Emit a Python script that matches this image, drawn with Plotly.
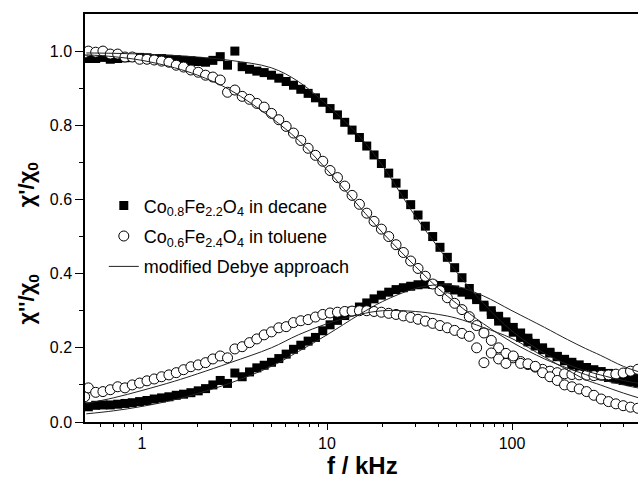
import plotly.graph_objects as go

# measurement frequencies (kHz)
freq_khz = [0.513, 0.562, 0.615, 0.674, 0.739, 0.809, 0.886, 0.971, 1.064, 1.165,
            1.276, 1.398, 1.532, 1.678, 1.838, 2.014, 2.206, 2.416, 2.648, 2.900,
            3.177, 3.480, 3.813, 4.176, 4.575, 5.012, 5.490, 6.015, 6.589, 7.218,
            7.907, 8.662, 9.489, 10.39, 11.39, 12.47, 13.66, 14.97, 16.40, 17.96,
            19.68, 21.56, 23.62, 25.87, 28.34, 31.05, 34.01, 37.26, 40.81, 44.71,
            48.98, 53.66, 58.78, 64.39, 70.53, 77.27, 84.65, 92.73, 101.6, 111.3,
            121.9, 133.6, 146.3, 160.3, 175.6, 192.3, 210.7, 230.8, 252.9, 277.0,
            303.4, 332.4, 364.1, 398.9, 436.9, 478.6]
tol_freq_khz = [0.49] + freq_khz

dec_chi1 = [0.980, 0.980, 0.983, 0.978, 0.980, 0.982, 0.983, 0.983, 0.982, 0.980,
            0.980, 0.978, 0.977, 0.975, 0.974, 0.972, 0.970, 0.975, 0.985, 0.962,
            1.000, 0.958, 0.951, 0.946, 0.942, 0.935, 0.927, 0.918, 0.908, 0.897,
            0.886, 0.874, 0.862, 0.845, 0.828, 0.808, 0.787, 0.767, 0.744, 0.720,
            0.697, 0.671, 0.644, 0.614, 0.586, 0.558, 0.528, 0.500, 0.471, 0.444,
            0.416, 0.389, 0.360, 0.335, 0.310, 0.290, 0.272, 0.256, 0.242, 0.228,
            0.216, 0.205, 0.195, 0.186, 0.177, 0.169, 0.161, 0.154, 0.147, 0.141,
            0.136, 0.131, 0.127, 0.123, 0.120, 0.117]
dec_chi2 = [0.041, 0.045, 0.046, 0.046, 0.048, 0.050, 0.052, 0.055, 0.058, 0.062,
            0.065, 0.068, 0.072, 0.075, 0.079, 0.084, 0.090, 0.100, 0.112, 0.104,
            0.132, 0.122, 0.135, 0.146, 0.153, 0.161, 0.171, 0.183, 0.196, 0.207,
            0.218, 0.228, 0.246, 0.262, 0.274, 0.287, 0.299, 0.310, 0.321, 0.332,
            0.342, 0.350, 0.357, 0.362, 0.366, 0.370, 0.372, 0.371, 0.368, 0.362,
            0.356, 0.350, 0.343, 0.330, 0.315, 0.300, 0.285, 0.270, 0.255, 0.240,
            0.226, 0.212, 0.200, 0.188, 0.176, 0.165, 0.155, 0.146, 0.138, 0.131,
            0.125, 0.120, 0.116, 0.112, 0.109, 0.106]
tol_chi1 = [0.995,
            1.000, 0.997, 1.000, 0.992, 0.992, 0.984, 0.984, 0.978, 0.978, 0.976,
            0.973, 0.970, 0.962, 0.957, 0.949, 0.943, 0.935, 0.930, 0.922, 0.889,
            0.895, 0.878, 0.870, 0.859, 0.849, 0.832, 0.815, 0.797, 0.779, 0.759,
            0.738, 0.719, 0.703, 0.678, 0.659, 0.636, 0.611, 0.587, 0.563, 0.541,
            0.520, 0.500, 0.478, 0.457, 0.434, 0.414, 0.393, 0.372, 0.354, 0.335,
            0.320, 0.303, 0.284, 0.260, 0.240, 0.220, 0.200, 0.185, 0.173, 0.163,
            0.155, 0.148, 0.142, 0.137, 0.133, 0.130, 0.128, 0.127, 0.126, 0.125,
            0.126, 0.127, 0.129, 0.132, 0.137, 0.142]
tol_chi2 = [0.068,
            0.092, 0.080, 0.082, 0.087, 0.095, 0.092, 0.100, 0.105, 0.111, 0.116,
            0.122, 0.127, 0.133, 0.141, 0.149, 0.154, 0.160, 0.170, 0.178, 0.173,
            0.197, 0.203, 0.214, 0.224, 0.235, 0.243, 0.254, 0.257, 0.268, 0.273,
            0.276, 0.283, 0.290, 0.294, 0.296, 0.298, 0.299, 0.300, 0.300, 0.298,
            0.296, 0.293, 0.290, 0.286, 0.282, 0.277, 0.272, 0.266, 0.260, 0.254,
            0.247, 0.239, 0.231, 0.200, 0.160, 0.186, 0.170, 0.158, 0.178, 0.158,
            0.157, 0.150, 0.133, 0.122, 0.112, 0.100, 0.095, 0.089, 0.082, 0.072,
            0.062, 0.055, 0.049, 0.044, 0.040, 0.037]

# modified Debye approach (fit curves)
fit_freq_khz = [0.5, 0.7, 1, 1.5, 2, 3, 5, 7, 10, 15, 20, 30, 40, 50, 70, 100,
                150, 200, 250, 300, 400, 500]
fit_dec_chi1 = [0.995, 0.994, 0.992, 0.988, 0.984, 0.975, 0.955, 0.918, 0.855, 0.770,
                0.690, 0.555, 0.470, 0.405, 0.320, 0.245, 0.185, 0.155, 0.138, 0.127,
                0.112, 0.103]
fit_dec_chi2 = [0.022, 0.030, 0.042, 0.060, 0.077, 0.105, 0.150, 0.190, 0.235, 0.290,
                0.325, 0.360, 0.370, 0.366, 0.340, 0.300, 0.255, 0.222, 0.198, 0.180,
                0.150, 0.133]
fit_tol_chi1 = [0.990, 0.985, 0.975, 0.955, 0.935, 0.895, 0.820, 0.760, 0.680, 0.580,
                0.510, 0.420, 0.360, 0.320, 0.265, 0.215, 0.170, 0.145, 0.128, 0.115,
                0.100, 0.090]
fit_tol_chi2 = [0.050, 0.065, 0.085, 0.110, 0.130, 0.160, 0.200, 0.235, 0.265, 0.290,
                0.300, 0.298, 0.290, 0.280, 0.255, 0.225, 0.175, 0.140, 0.114, 0.100,
                0.078, 0.063]

x_ticks = [1, 10, 100]
x_ticklabels = ["1", "10", "100"]
y_ticks = [0.0, 0.2, 0.4, 0.6, 0.8, 1.0]
y_ticklabels = ["0.0", "0.2", "0.4", "0.6", "0.8", "1.0"]

FONT = "Liberation Sans, Arial, sans-serif"
sq = dict(symbol="square", size=9, color="black", line=dict(width=0))
ci = dict(symbol="circle", size=10, color="white", line=dict(width=1, color="black"))
ln = dict(color="#222222", width=1, shape="spline")

fig = go.Figure()
fig.add_trace(go.Scatter(x=freq_khz, y=dec_chi1, mode="markers", marker=sq,
                         name="Co<sub>0.8</sub>Fe<sub>2.2</sub>O<sub>4</sub> in decane",
                         legendgroup="a", showlegend=True))
fig.add_trace(go.Scatter(x=freq_khz, y=dec_chi2, mode="markers", marker=sq,
                         legendgroup="a", showlegend=False))
fig.add_trace(go.Scatter(x=tol_freq_khz, y=tol_chi1, mode="markers", marker=ci,
                         name="Co<sub>0.6</sub>Fe<sub>2.4</sub>O<sub>4</sub> in toluene",
                         legendgroup="b", showlegend=True))
fig.add_trace(go.Scatter(x=tol_freq_khz, y=tol_chi2, mode="markers", marker=ci,
                         legendgroup="b", showlegend=False))
for i, yv in enumerate([fit_dec_chi1, fit_dec_chi2, fit_tol_chi1, fit_tol_chi2]):
    fig.add_trace(go.Scatter(x=fit_freq_khz, y=yv, mode="lines", line=ln,
                             name="modified Debye approach", legendgroup="c",
                             showlegend=(i == 0)))

fig.update_layout(
    width=638, height=479,
    margin=dict(l=85, r=0, t=14, b=57),
    paper_bgcolor="white", plot_bgcolor="white",
    font=dict(family=FONT, size=16, color="black"),
    showlegend=True,
    legend=dict(x=0.034, y=0.575, xanchor="left", yanchor="top",
                font=dict(family=FONT, size=18, color="black"),
                bgcolor="rgba(0,0,0,0)", tracegroupgap=4, itemwidth=30),
    xaxis=dict(type="log", range=[-0.308, 2.681], showgrid=False, zeroline=False,
               showline=True, linecolor="black", linewidth=1.5, mirror=True,
               ticks="outside", ticklen=6, tickwidth=1.2, tickcolor="black",
               tickvals=x_ticks, ticktext=x_ticklabels,
               tickfont=dict(family=FONT, size=16),
               minor=dict(ticks="outside", ticklen=3, tickwidth=1, tickcolor="black",
                          tickvals=[0.6, 0.7, 0.8, 0.9, 2, 3, 4, 5, 6, 7, 8, 9,
                                    20, 30, 40, 50, 60, 70, 80, 90, 200, 300, 400])),
    yaxis=dict(range=[0, 1.1], showgrid=False, zeroline=False,
               showline=True, linecolor="black", linewidth=1.5,
               ticks="outside", ticklen=8, tickwidth=1.2, tickcolor="black",
               tickvals=y_ticks, ticktext=y_ticklabels,
               tickfont=dict(family=FONT, size=16),
               minor=dict(ticks="outside", ticklen=4, tickwidth=1, tickcolor="black",
                          tickvals=[0.1, 0.3, 0.5, 0.7, 0.9])),
    annotations=[
        dict(text="<b>f / kHz</b>", xref="paper", yref="paper", x=0.502, y=0,
             yshift=-43, xanchor="center", yanchor="middle", showarrow=False,
             font=dict(family=FONT, size=24)),
        dict(text="<b>χ'/χ<sub>0</sub></b>", xref="paper", yref="paper", x=0, y=0.58,
             xshift=-57, xanchor="center", yanchor="middle", textangle=-90,
             showarrow=False, font=dict(family=FONT, size=22)),
        dict(text="<b>χ''/χ<sub>0</sub></b>", xref="paper", yref="paper", x=0, y=0.30,
             xshift=-57, xanchor="center", yanchor="middle", textangle=-90,
             showarrow=False, font=dict(family=FONT, size=22)),
    ],
)

fig.write_html("out.html")
